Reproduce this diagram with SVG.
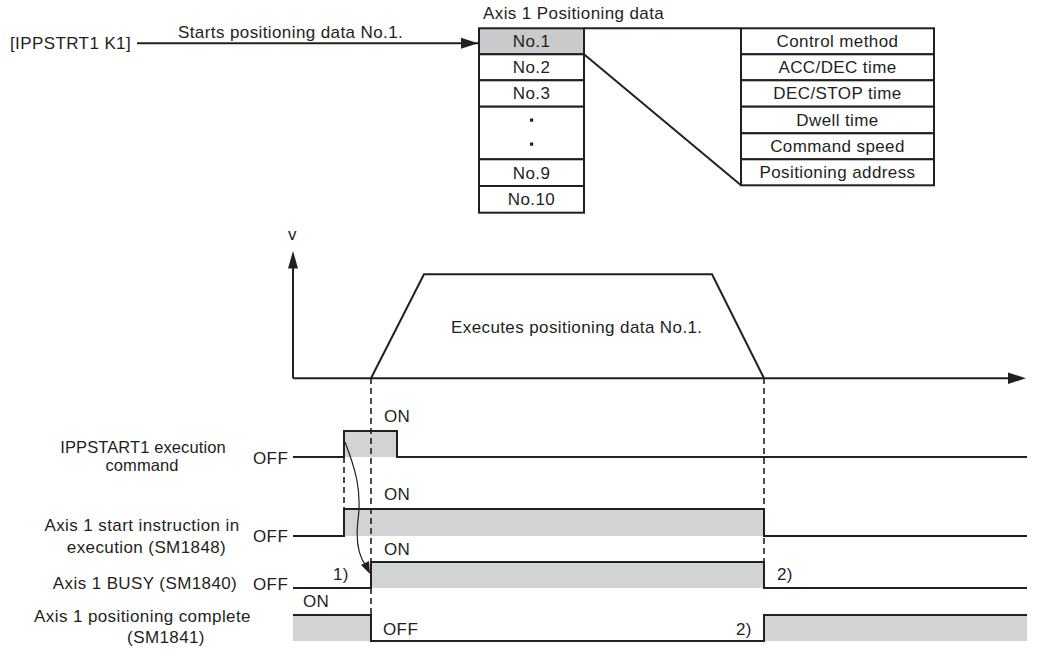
<svg xmlns="http://www.w3.org/2000/svg" width="1039" height="649" viewBox="0 0 1039 649">
<style>
text{font-family:"Liberation Sans",Arial,sans-serif;font-size:17px;fill:#231f20;letter-spacing:0.4px}
.s{font-size:16.5px;letter-spacing:0.1px}
.m{text-anchor:middle}
.ln{fill:none;stroke:#231f20;stroke-width:2}
.cell{fill:#fff;stroke:#231f20;stroke-width:2}
.hl{fill:#c9cacc;stroke:#231f20;stroke-width:2}
.dash{fill:none;stroke:#231f20;stroke-width:1.6;stroke-dasharray:6,4}
.g{fill:#d1d3d4}
.ah{fill:#231f20}
</style>
<defs>
<marker id="arr" markerWidth="18" markerHeight="12" refX="17" refY="6" orient="auto" markerUnits="userSpaceOnUse"><path d="M0,0.5 L17,6 L0,11.5 z" fill="#231f20"/></marker>
</defs>

<g id="start-cmd">
<text x="10" y="49">[IPPSTRT1 K1]</text>
</g>

<g id="pos-table">
<text x="483" y="19">Axis 1 Positioning data</text>
<rect class="hl" x="479" y="28.3" width="105" height="26"/>
<rect class="cell" x="479" y="54.3" width="105" height="26"/>
<rect class="cell" x="479" y="80.3" width="105" height="26.4"/>
<rect class="cell" x="479" y="106.7" width="105" height="52.6"/>
<rect class="cell" x="479" y="159.3" width="105" height="26.7"/>
<rect class="cell" x="479" y="186" width="105" height="26.7"/>
<text class="m" x="531.5" y="47">No.1</text>
<text class="m" x="531.5" y="73">No.2</text>
<text class="m" x="531.5" y="99">No.3</text>
<rect x="530" y="118.5" width="3.2" height="3.2" fill="#231f20"/>
<rect x="530" y="142.5" width="3.2" height="3.2" fill="#231f20"/>
<text class="m" x="531.5" y="178.5">No.9</text>
<text class="m" x="531.5" y="205">No.10</text>
</g>

<g id="data-items">
<rect class="cell" x="741" y="28.3" width="193" height="26"/>
<rect class="cell" x="741" y="54.3" width="193" height="26"/>
<rect class="cell" x="741" y="80.3" width="193" height="26.4"/>
<rect class="cell" x="741" y="106.7" width="193" height="26.6"/>
<rect class="cell" x="741" y="133.3" width="193" height="26"/>
<rect class="cell" x="741" y="159.3" width="193" height="26"/>
<text class="m" x="837.5" y="47">Control method</text>
<text class="m" x="837.5" y="73">ACC/DEC time</text>
<text class="m" x="837.5" y="99">DEC/STOP time</text>
<text class="m" x="837.5" y="125.5">Dwell time</text>
<text class="m" x="837.5" y="152">Command speed</text>
<text class="m" x="837.5" y="178">Positioning address</text>
</g>

<g id="connectors">
<path class="ln" d="M137,43.3 H478" marker-end="url(#arr)"/>
<text x="178" y="38">Starts positioning data No.1.</text>
<path class="ln" d="M584,28.3 H741"/>
<path class="ln" d="M584,54.3 L741,185.3"/>
</g>

<g id="velocity-graph">
<text x="288" y="240">v</text>
<path class="ln" d="M293,378.3 V262"/>
<path class="ah" d="M293,251 L298,268.5 L288,268.5 z"/>
<path class="ln" d="M293,378.3 H1012"/>
<path class="ah" d="M1026,378.3 L1008,372.5 L1008,384 z"/>
<path class="ln" d="M371,378.3 L424,274.3 H712 L764,378.3"/>
<text x="451" y="333">Executes positioning data No.1.</text>
</g>

<g id="fills">
<rect class="g" x="344" y="431" width="53" height="26"/>
<rect class="g" x="344" y="509" width="420" height="27"/>
<rect class="g" x="371" y="562" width="393" height="26"/>
<rect class="g" x="293" y="615" width="78" height="26"/>
<rect class="g" x="764" y="615" width="263" height="26"/>
</g>

<g id="sig-ippstart">
<text class="s m" x="143" y="453">IPPSTART1 execution</text>
<text class="s m" x="142" y="471">command</text>
<text x="253" y="464">OFF</text>
<text x="384" y="422">ON</text>
<path class="ln" d="M293,457 H344 V431 H397 V457 H1027"/>
</g>

<g id="sig-start">
<text class="m" x="142" y="531">Axis 1 start instruction in</text>
<text class="m" x="146.5" y="553">execution (SM1848)</text>
<text x="253" y="542">OFF</text>
<text x="384" y="500">ON</text>
<path class="ln" d="M293,536 H344 V509 H764 V536 H1027"/>
</g>

<g id="sig-busy">
<text class="m" x="145" y="589">Axis 1 BUSY (SM1840)</text>
<text x="253" y="590">OFF</text>
<text x="384" y="555">ON</text>
<text x="333" y="580">1)</text>
<text x="777" y="580">2)</text>
<path class="ln" d="M293,588 H371 V562 H764 V588 H1027"/>
</g>

<g id="sig-complete">
<text class="m" x="142.5" y="622">Axis 1 positioning complete</text>
<text class="m" x="166" y="643">(SM1841)</text>
<text x="303" y="607">ON</text>
<text x="383" y="635">OFF</text>
<text x="736" y="635">2)</text>
<path class="ln" d="M293,615 H371 V641 H764 V615 H1027"/>
</g>

<g id="guides">
<path class="dash" d="M371,378 V641"/>
<path class="dash" d="M764,378 V562"/>
<path class="dash" d="M344,457 V509"/>
<path fill="none" stroke="#231f20" stroke-width="1.2" d="M345,442 C355,468 362,490 358,520 C355,545 360,558 366,566"/>
<path class="ah" d="M370,574 L361,565 L369,561 z"/>
</g>
</svg>
